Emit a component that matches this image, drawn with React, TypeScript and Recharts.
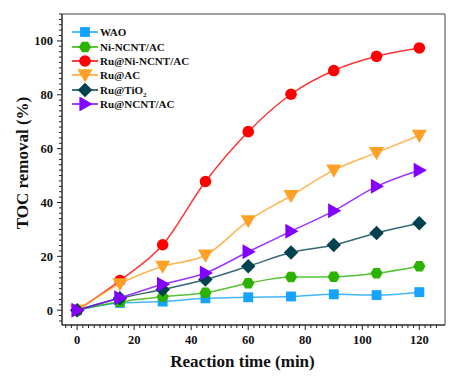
import { LineChart, Line, XAxis, YAxis, ReferenceArea } from 'recharts';

const times = [0, 15, 30, 45, 60, 75, 90, 105, 120];
const wao = [0, 2.7, 3.2, 4.4, 4.8, 5.1, 5.9, 5.6, 6.7];
const niNcntAc = [0, 3.1, 5.0, 6.5, 10.0, 12.3, 12.4, 13.7, 16.3];
const ruNiNcntAc = [0, 11.0, 24.3, 47.8, 66.3, 80.2, 89.0, 94.3, 97.4];
const ruAc = [0, 9.8, 16.3, 20.4, 33.2, 42.5, 52.0, 58.5, 64.9];
const ruTiO2 = [0, 4.4, 7.7, 11.4, 16.3, 21.4, 24.2, 28.7, 32.3];
const ruNcntAc = [0, 4.6, 9.6, 13.8, 21.7, 29.3, 36.9, 46.0, 52.0];

const seriesNames = ['WAO', 'Ni-NCNT/AC', 'Ru@Ni-NCNT/AC', 'Ru@AC', 'Ru@TiO2', 'Ru@NCNT/AC'];
const seriesKeys = ['wao', 'ni', 'runi', 'ruac', 'ruti', 'runcnt'];
const seriesValues = [wao, niNcntAc, ruNiNcntAc, ruAc, ruTiO2, ruNcntAc];
const seriesColors = ['#14a3ff', '#2cb300', '#ff0000', '#ffa126', '#00434f', '#8400ff'];
const seriesShapes = ['square', 'hexagon', 'circle', 'triDown', 'diamond', 'triRight'];

const xMajor = [0, 20, 40, 60, 80, 100, 120];
const yMajor = [0, 20, 40, 60, 80, 100];
const xMinor = Array.from({ length: 66 }, (_, i) => -4 + i * 2);
const yMinor = Array.from({ length: 58 }, (_, i) => -4 + i * 2);

const data = times.map((t, i) => {
  const row: Record<string, number> = { time: t };
  seriesKeys.forEach((k, j) => {
    row[k] = seriesValues[j][i];
  });
  return row;
});

const FONT = '"Liberation Serif", "Times New Roman", serif';

function Marker({ shape, cx, cy, color, r = 5.8 }: { shape: string; cx: number; cy: number; color: string; r?: number }) {
  if (shape === 'square') {
    return <rect x={cx - r * 0.85} y={cy - r * 0.85} width={r * 1.7} height={r * 1.7} fill={color} />;
  }
  if (shape === 'circle') {
    return <circle cx={cx} cy={cy} r={r} fill={color} />;
  }
  if (shape === 'hexagon') {
    const pts = [0, 60, 120, 180, 240, 300]
      .map((a) => `${cx + r * 1.05 * Math.cos((a * Math.PI) / 180)},${cy + r * 1.05 * Math.sin((a * Math.PI) / 180)}`)
      .join(' ');
    return <polygon points={pts} fill={color} />;
  }
  if (shape === 'triDown') {
    const s = r * 1.3;
    return <polygon points={`${cx - s},${cy - s * 0.75} ${cx + s},${cy - s * 0.75} ${cx},${cy + s}`} fill={color} />;
  }
  if (shape === 'diamond') {
    const s = r * 1.25;
    return <polygon points={`${cx},${cy - s} ${cx + s},${cy} ${cx},${cy + s} ${cx - s},${cy}`} fill={color} />;
  }
  const s = r * 1.3;
  return <polygon points={`${cx - s * 0.75},${cy - s} ${cx + s},${cy} ${cx - s * 0.75},${cy + s}`} fill={color} />;
}

function makeDot(shape: string, color: string) {
  return (props: any) => {
    const { cx, cy, index } = props;
    if (cx == null || cy == null) return <g key={index} />;
    return (
      <g key={`${shape}-${index}`}>
        <Marker shape={shape} cx={cx} cy={cy} color={color} />
      </g>
    );
  };
}

function XTick(props: any) {
  const { x, y, payload } = props;
  const v = payload.value;
  const major = xMajor.includes(v);
  return (
    <g>
      <line x1={x} x2={x} y1={y} y2={y + (major ? 5 : 3)} stroke="#222" strokeWidth={1} />
      {major && (
        <text x={x} y={y + 19} textAnchor="middle" fontFamily={FONT} fontWeight="bold" fontSize={12.5} fill="#111">
          {v}
        </text>
      )}
    </g>
  );
}

function YTick(props: any) {
  const { x, y, payload } = props;
  const v = payload.value;
  const major = yMajor.includes(v);
  return (
    <g>
      <line x1={x} x2={x - (major ? 5 : 3)} y1={y} y2={y} stroke="#222" strokeWidth={1} />
      {major && (
        <text x={x - 9} y={y + 4.5} textAnchor="end" fontFamily={FONT} fontWeight="bold" fontSize={12.5} fill="#111">
          {v}
        </text>
      )}
    </g>
  );
}

function XTitle(props: any) {
  const { viewBox } = props;
  return (
    <text
      x={viewBox.x + viewBox.width / 2 - 11}
      y={viewBox.y + 42}
      textAnchor="middle"
      fontFamily={FONT}
      fontWeight="bold"
      fontSize={17}
      fill="#111"
    >
      Reaction time (min)
    </text>
  );
}

function YTitle(props: any) {
  const { viewBox } = props;
  const cx = 20;
  const cy = viewBox.y + viewBox.height / 2 - 6.5;
  return (
    <text
      x={cx}
      y={cy}
      transform={`rotate(-90 ${cx} ${cy})`}
      textAnchor="middle"
      fontFamily={FONT}
      fontWeight="bold"
      fontSize={17}
      fill="#111"
    >
      TOC removal (%)
    </text>
  );
}

function LegendBox() {
  return (
    <div style={{ position: 'absolute', left: 64, top: 17, fontFamily: FONT, fontWeight: 'bold', fontSize: 11, color: '#111' }}>
      {seriesNames.map((name, i) => (
        <div key={name} style={{ display: 'flex', alignItems: 'center', height: 14.4 }}>
          <svg width={27} height={14} style={{ display: 'block' }}>
            <line x1={0} x2={26} y1={7} y2={7} stroke={seriesColors[i]} strokeWidth={1.5} />
            <Marker shape={seriesShapes[i]} cx={13} cy={7} color={seriesColors[i]} />
          </svg>
          <span style={{ marginLeft: 1, whiteSpace: 'nowrap', lineHeight: '14px' }}>
            {name === 'Ru@TiO2' ? (
              <>
                Ru@TiO<sub style={{ fontSize: 7, verticalAlign: -3, lineHeight: 0 }}>2</sub>
              </>
            ) : (
              name
            )}
          </span>
        </div>
      ))}
    </div>
  );
}

export default function App() {
  return (
    <div style={{ position: 'relative', width: 450, height: 364 }}>
      <LineChart width={450} height={364} data={data} margin={{ top: 6, right: 13, left: 0, bottom: 0 }}>
        <XAxis
          dataKey="time"
          type="number"
          domain={[-5.3, 129]}
          ticks={xMinor}
          interval={0}
          tickLine={false}
          tickSize={0}
          tickMargin={0}
          tick={<XTick />}
          axisLine={{ stroke: '#222' }}
          height={47}
          allowDataOverflow
          label={<XTitle />}
        />
        <YAxis
          type="number"
          domain={[-5.5, 110]}
          ticks={yMinor}
          interval={0}
          tickLine={false}
          tickSize={0}
          tickMargin={0}
          tick={<YTick />}
          axisLine={{ stroke: '#222' }}
          width={54}
          allowDataOverflow
          label={<YTitle />}
        />
        <ReferenceArea x1={-5.3} x2={129} y1={-5.5} y2={110} fill="none" stroke="#444" strokeWidth={1} ifOverflow="visible" />
        {seriesKeys.map((k, i) => (
          <Line
            key={k}
            dataKey={k}
            name={seriesNames[i]}
            type="monotone"
            stroke={seriesColors[i]}
            strokeOpacity={0.8}
            strokeWidth={1.5}
            dot={makeDot(seriesShapes[i], seriesColors[i])}
            activeDot={false}
            isAnimationActive={false}
          />
        ))}
      </LineChart>
      <LegendBox />
    </div>
  );
}
